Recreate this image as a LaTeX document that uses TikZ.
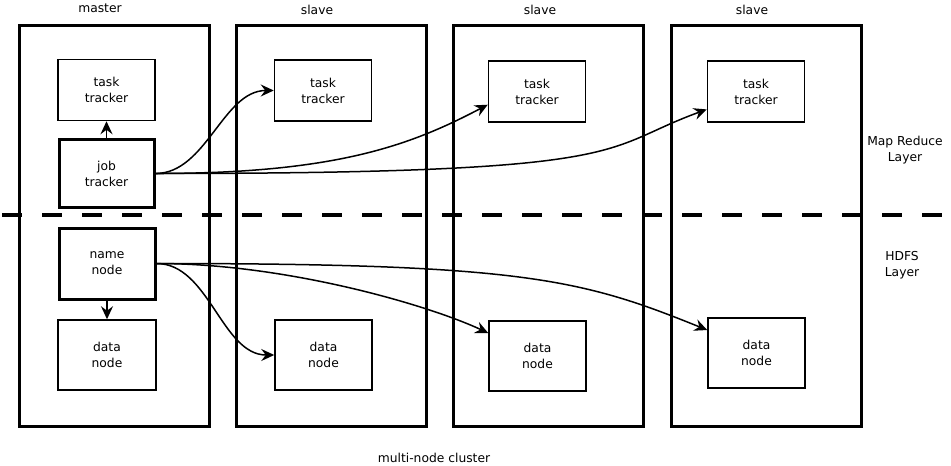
\documentclass[tikz,border=0pt]{standalone}
\usepackage{fontspec}
\setmainfont{DejaVu Sans}
\usetikzlibrary{arrows.meta}
\usetikzlibrary{positioning}

\tikzset{
  cluster/.style={draw, line width=3pt, minimum width=190pt, minimum height=401pt, inner sep=0pt},
  daemon/.style={draw, line width=1.5pt, align=center, inner sep=0pt,
    minimum width=97pt, minimum height=61pt},
  master daemon/.style={daemon, line width=3pt, minimum width=95pt, minimum height=68pt},
  storage/.style={daemon, minimum width=97pt, minimum height=70pt},
  caption/.style={align=center, inner sep=0pt},
  flow/.style={-{Stealth[length=13pt, width=12pt, inset=4.5pt]}, line width=1.5pt},
  layer line/.style={line width=4pt, dash pattern=on 20pt off 20pt}
}

\begin{document}
\begin{tikzpicture}[x=1pt, y=-1pt, node distance=2cm, on grid,
    font=\fontsize{12.3}{16}\selectfont]

      \useasboundingbox (0,0) rectangle (951,466);

      \coordinate (layer_w) at (2,215);
      \coordinate (layer_e) at (943,215);
      \draw[layer line] (layer_w) -- (layer_e);

      \node[cluster] (master)               at (114,225.5) {};
      \node[cluster] (slave_a) [right=217pt of master]  {};
      \node[cluster] (slave_b) [right=217.5pt of slave_a] {};
      \node[cluster] (slave_c) [right=217.5pt of slave_b] {};

      \node[caption] (master_lbl)  at (100,8)  {master};
      \node[caption] (slave_a_lbl) at (317,10) {slave};
      \node[caption] (slave_b_lbl) at (540,10) {slave};
      \node[caption] (slave_c_lbl) at (752,10) {slave};

      \node[daemon] (tt_m) at (106.5,90) {task\\tracker};
      \node[master daemon] (jt_m) [below=83.5pt of tt_m] {job\\tracker};
      \node[master daemon, minimum width=96pt, minimum height=71pt] (nn_m) at (107,263.5) {name\\node};
      \node[storage, minimum width=98pt] (dn_m) [below=91.5pt of nn_m] {data\\node};

      \node[daemon] (tt_a) at (323,90.5) {task\\tracker};
      \node[storage] (dn_a) at (323.5,355) {data\\node};
      \node[daemon] (tt_b) at (537,91.5) {task\\tracker};
      \node[storage] (dn_b) at (537.5,356) {data\\node};
      \node[daemon] (tt_c) at (756,91.5) {task\\tracker};
      \node[storage] (dn_c) at (756.5,353) {data\\node};

      \node[caption] (mr_lbl)   at (905,150) {Map Reduce\\Layer};
      \node[caption] (hdfs_lbl) at (902,265) {HDFS\\Layer};
      \node[caption] (cluster_lbl) at (434,458) {multi-node cluster};

      \path[flow]
      (jt_m.north) edge (tt_m.south)
      (nn_m.south) edge (dn_m.north)
      (jt_m.east) edge[out=0, in=180, looseness=0.9] (tt_a.west)
      (nn_m.east) edge[out=0, in=180, looseness=0.9] (dn_a.west)
      ;
      \draw[flow] (jt_m.east) .. controls +(180,0) and +(-78,41) .. (tt_b.195);
      \draw[flow] (jt_m.east) .. controls +(489,0) and +(-110,40) .. (tt_c.200);
      \draw[flow] (nn_m.east) .. controls +(130,0) and +(-60,-28) .. (dn_b.155);
      \draw[flow] (nn_m.east) .. controls +(366,0) and +(-126,-51) .. (dn_c.155);
    \end{tikzpicture}
\end{document}
